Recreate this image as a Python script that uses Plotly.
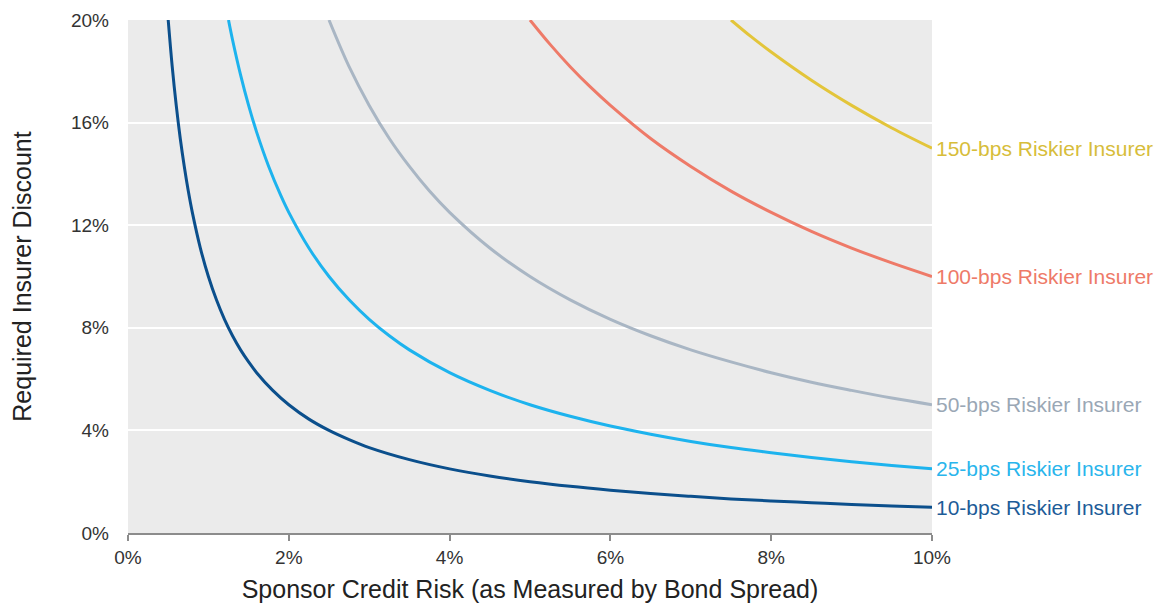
import plotly.graph_objects as go

# Values (x: bond spread %, y: required discount %)
x_10 = [0.5, 0.55, 0.6, 0.65, 0.7, 0.75, 0.8, 0.9, 1.0, 1.1, 1.2, 1.3, 1.4, 1.5, 1.6, 1.8, 2.0, 2.25, 2.5, 2.75, 3.0, 3.5, 4.0, 4.5, 5.0, 5.5, 6.0, 6.5, 7.0, 7.5, 8.0, 8.5, 9.0, 9.5, 10.0]
y_10 = [20.0, 18.18, 16.67, 15.38, 14.29, 13.33, 12.5, 11.11, 10.0, 9.09, 8.33, 7.69, 7.14, 6.67, 6.25, 5.56, 5.0, 4.44, 4.0, 3.64, 3.33, 2.86, 2.5, 2.22, 2.0, 1.82, 1.67, 1.54, 1.43, 1.33, 1.25, 1.18, 1.11, 1.05, 1.0]

x_25 = [1.25, 1.3, 1.4, 1.5, 1.6, 1.75, 1.9, 2.0, 2.25, 2.5, 2.75, 3.0, 3.25, 3.5, 4.0, 4.5, 5.0, 5.5, 6.0, 6.5, 7.0, 7.5, 8.0, 8.5, 9.0, 9.5, 10.0]
y_25 = [20.0, 19.23, 17.86, 16.67, 15.63, 14.29, 13.16, 12.5, 11.11, 10.0, 9.09, 8.33, 7.69, 7.14, 6.25, 5.56, 5.0, 4.55, 4.17, 3.85, 3.57, 3.33, 3.13, 2.94, 2.78, 2.63, 2.5]

x_50 = [2.5, 2.75, 3.0, 3.25, 3.5, 3.75, 4.0, 4.5, 5.0, 5.5, 6.0, 6.5, 7.0, 7.5, 8.0, 8.5, 9.0, 9.5, 10.0]
y_50 = [20.0, 18.18, 16.67, 15.38, 14.29, 13.33, 12.5, 11.11, 10.0, 9.09, 8.33, 7.69, 7.14, 6.67, 6.25, 5.88, 5.56, 5.26, 5.0]

x_100 = [5.0, 5.25, 5.5, 5.75, 6.0, 6.5, 7.0, 7.5, 8.0, 8.5, 9.0, 9.5, 10.0]
y_100 = [20.0, 19.05, 18.18, 17.39, 16.67, 15.38, 14.29, 13.33, 12.5, 11.76, 11.11, 10.53, 10.0]

x_150 = [7.5, 7.75, 8.0, 8.5, 9.0, 9.5, 10.0]
y_150 = [20.0, 19.35, 18.75, 17.65, 16.67, 15.79, 15.0]

series_names = ["10-bps Riskier Insurer", "25-bps Riskier Insurer", "50-bps Riskier Insurer",
                "100-bps Riskier Insurer", "150-bps Riskier Insurer"]
line_colors = ["#0b4f8c", "#1db3ee", "#a9b6c4", "#ee7a68", "#e3c53a"]
label_colors = ["#1d5c98", "#29b5ec", "#9aa7b5", "#ee7a68", "#d7bd3a"]

x_ticks = [0, 2, 4, 6, 8, 10]
y_ticks = [0, 4, 8, 12, 16, 20]

xs = [x_10, x_25, x_50, x_100, x_150]
ys = [y_10, y_25, y_50, y_100, y_150]

FONT = "Liberation Sans, Arial, sans-serif"

fig = go.Figure()
for x, y, c in zip(xs, ys, line_colors):
    fig.add_trace(go.Scatter(x=x, y=y, mode="lines", line=dict(color=c, width=3, shape="spline", smoothing=1.0),
                             showlegend=False, hoverinfo="skip", cliponaxis=True))

annotations = []
for x, y, name, c in zip(xs, ys, series_names, label_colors):
    annotations.append(dict(x=x[-1], y=y[-1], xref="x", yref="y", text=name, showarrow=False,
                            xanchor="left", yanchor="middle", xshift=2,
                            font=dict(size=21, color=c, family=FONT)))

fig.update_layout(
    width=1159, height=608,
    margin=dict(l=128, r=227, t=20, b=75, autoexpand=False),
    paper_bgcolor="white",
    plot_bgcolor="#ebebeb",
    font=dict(family=FONT, color="#333333"),
    annotations=annotations,
    xaxis=dict(range=[0, 10], tickvals=x_ticks, ticktext=[f"{v}%" for v in x_ticks], automargin=False,
               showgrid=False, zeroline=False, showline=True, linecolor="#8c8c8c", linewidth=2,
               ticks="outside", ticklen=6, tickcolor="#8c8c8c", tickwidth=2,
               tickfont=dict(size=19, color="#333333"),
               title=dict(text="Sponsor Credit Risk (as Measured by Bond Spread)", font=dict(size=25, color="#222222"),
                          standoff=14)),
    yaxis=dict(range=[0, 20], tickvals=y_ticks, ticktext=[f"{v}%" for v in y_ticks], automargin=False,
               showgrid=True, gridcolor="white", gridwidth=2, zeroline=False, showline=False,
               ticks="", tickfont=dict(size=19, color="#333333"), ticklabelstandoff=18,
               title=dict(text="Required Insurer Discount", font=dict(size=25, color="#222222"), standoff=32)),
)

fig.write_html("out.html")
